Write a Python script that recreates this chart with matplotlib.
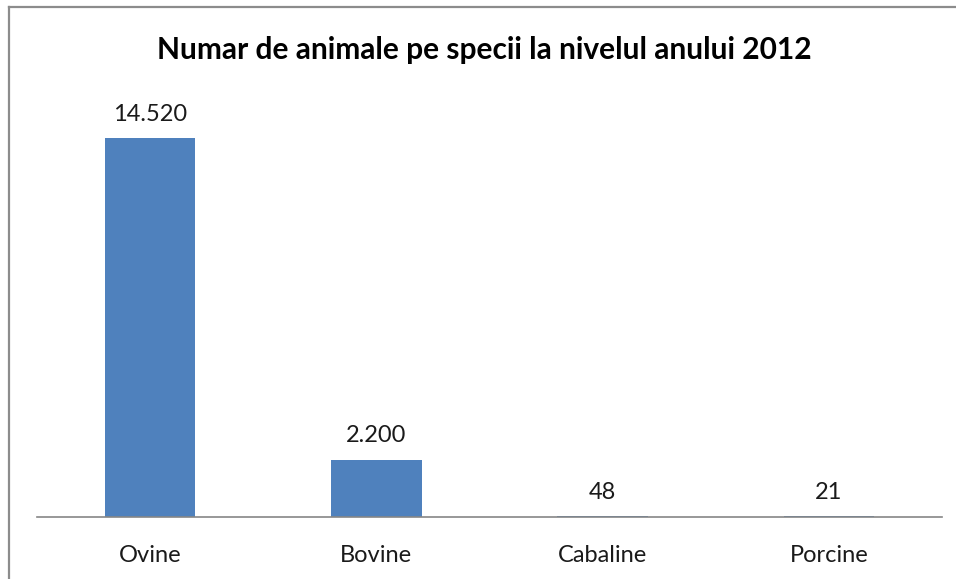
import matplotlib
matplotlib.use("Agg")
import matplotlib.pyplot as plt
from matplotlib.lines import Line2D

plt.rcParams['font.family'] = ['Lato', 'DejaVu Sans']

categories = ['Ovine', 'Bovine', 'Cabaline', 'Porcine']
values = [14520, 2200, 48, 21]
title = 'Numar de animale pe specii la nivelul anului 2012'


def fmt(v):
    # separator de mii cu punct
    return '{:,}'.format(v).replace(',', '.')


W, H = 956, 579
fig = plt.figure(figsize=(W / 100, H / 100), dpi=100)

# chenarul graficului (stanga si sus)
fig.add_artist(Line2D([9 / W, 9 / W], [0, 1 - 7 / H], color='#8c8c8c', lw=1.6,
                      transform=fig.transFigure))
fig.add_artist(Line2D([9 / W, 1], [1 - 7 / H, 1 - 7 / H], color='#8c8c8c', lw=1.6,
                      transform=fig.transFigure))

ax = fig.add_axes([37 / W, 62 / H, 905 / W, (517 - 99.4) / H])
x = list(range(len(categories)))
ax.bar(x, values, width=0.4, color='#4f81bd')
for xi, v in zip(x, values):
    ax.annotate(fmt(v), (xi, v), xytext=(0, 17), textcoords='offset points',
                ha='center', va='center', fontsize=17, color='#1a1a1a')

ax.set_xlim(-0.5, 3.5)
ax.set_ylim(0, 16000)
ax.set_xticks(x)
ax.set_xticklabels(categories, fontsize=17, color='#1a1a1a')
ax.tick_params(axis='x', length=0, pad=20)
ax.set_yticks([])
for s in ['left', 'right', 'top']:
    ax.spines[s].set_visible(False)
ax.spines['bottom'].set_color('#868686')
ax.spines['bottom'].set_linewidth(1.2)

fig.text(0.507, 1 - 50 / H, title, ha='center', va='center',
         fontsize=21.5, fontweight='bold', color='#000000')

fig.savefig('out.png', dpi=100)
